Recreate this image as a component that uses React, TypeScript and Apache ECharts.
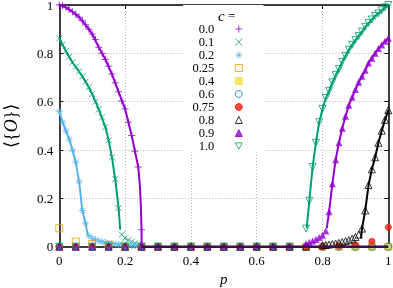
import React, { useEffect, useRef } from 'react';
import * as echarts from 'echarts';

// ---------- data ----------
const P_LEFT = [0, 0.01, 0.02, 0.03, 0.04, 0.05, 0.06, 0.07, 0.08, 0.09, 0.1, 0.11, 0.12, 0.13, 0.14, 0.15, 0.16, 0.17, 0.18, 0.19, 0.2, 0.21, 0.22, 0.23, 0.24, 0.25];
const P_COARSE = [0, 0.05, 0.1, 0.15, 0.2, 0.25, 0.3, 0.35, 0.4, 0.45, 0.5, 0.55, 0.6, 0.65, 0.7, 0.75, 0.8, 0.85, 0.9, 0.95, 1.0];
const P_TAIL = [0.3, 0.35, 0.4, 0.45, 0.5, 0.55, 0.6, 0.65, 0.7, 0.75, 0.8, 0.85, 0.9, 0.95, 1.0];
const P_HEAD = [0, 0.05, 0.1, 0.15, 0.2, 0.25, 0.3, 0.35, 0.4, 0.45, 0.5, 0.55, 0.6, 0.65, 0.7];
const P_HEAD08 = [0, 0.05, 0.1, 0.15, 0.2, 0.25, 0.3, 0.35, 0.4, 0.45, 0.5, 0.55, 0.6, 0.65, 0.7, 0.75];
const P_RIGHT = [0.75, 0.76, 0.77, 0.78, 0.79, 0.8, 0.81, 0.82, 0.83, 0.84, 0.85, 0.86, 0.87, 0.88, 0.89, 0.9, 0.91, 0.92, 0.93, 0.94, 0.95, 0.96, 0.97, 0.98, 0.99, 1.0];
const P_C08 = [0.8, 0.81, 0.82, 0.83, 0.84, 0.85, 0.86, 0.87, 0.88, 0.89, 0.9, 0.91, 0.92, 0.93, 0.94, 0.95, 0.96, 0.97, 0.98, 0.99, 1.0];

// markers (simulation)
const C00 = [1.0, 0.997, 0.99, 0.982, 0.972, 0.962, 0.95, 0.935, 0.918, 0.9, 0.88, 0.857, 0.825, 0.8, 0.775, 0.747, 0.714, 0.678, 0.641, 0.603, 0.57, 0.515, 0.46, 0.395, 0.33, 0.07];
const C00_TAIL = [0, 0, 0, 0, 0, 0, 0, 0, 0, 0, 0, 0, 0, 0, 0];
const C01 = [0.862, 0.835, 0.81, 0.785, 0.762, 0.745, 0.725, 0.705, 0.683, 0.66, 0.632, 0.6, 0.568, 0.535, 0.495, 0.44, 0.37, 0.28, 0.16, 0.05, 0.035, 0.027, 0.02, 0.014, 0.009, 0.004];
const C01_TAIL = [0, 0, 0, 0, 0, 0, 0, 0, 0, 0, 0, 0, 0, 0, 0];
const C02 = [0.56, 0.515, 0.48, 0.445, 0.4, 0.35, 0.27, 0.15, 0.095, 0.045, 0.035, 0.029, 0.024, 0.02, 0.017, 0.015, 0.013, 0.011, 0.009, 0.008, 0.007, 0.006, 0.005, 0.004, 0.003, 0.002];
const C02_TAIL = [0, 0, 0, 0, 0, 0, 0, 0, 0, 0, 0, 0, 0, 0, 0];
const C025 = [0.076, 0.021, 0.011, 0.007, 0, 0, 0, 0, 0, 0, 0, 0, 0, 0, 0, 0, 0, 0, 0, 0, 0];
const C04 = [0, 0, 0, 0, 0, 0, 0, 0, 0, 0, 0, 0, 0, 0, 0, 0, 0, 0, 0, 0, 0];
const C06 = [0, 0, 0, 0, 0, 0, 0, 0, 0, 0, 0, 0, 0, 0, 0, 0, 0, 0, 0, 0, 0];
const C075 = [0, 0, 0, 0, 0, 0, 0, 0, 0, 0, 0, 0, 0, 0, 0, 0, 0, 0.004, 0.008, 0.022, 0.08];
const C08_HEAD = [0, 0, 0, 0, 0, 0, 0, 0, 0, 0, 0, 0, 0, 0, 0, 0];
const C08 = [0.006, 0.007, 0.009, 0.011, 0.013, 0.016, 0.019, 0.023, 0.027, 0.033, 0.04, 0.05, 0.075, 0.15, 0.255, 0.32, 0.37, 0.43, 0.48, 0.525, 0.565];
const C09_HEAD = [0, 0, 0, 0, 0, 0, 0, 0, 0, 0, 0, 0, 0, 0, 0];
const C09 = [0.012, 0.018, 0.024, 0.03, 0.038, 0.047, 0.065, 0.145, 0.26, 0.36, 0.43, 0.49, 0.54, 0.585, 0.618, 0.65, 0.68, 0.705, 0.73, 0.76, 0.78, 0.8, 0.82, 0.835, 0.85, 0.862];
const C10_HEAD = [0, 0, 0, 0, 0, 0, 0, 0, 0, 0, 0, 0, 0, 0, 0];
const C10 = [0.075, 0.19, 0.33, 0.43, 0.515, 0.57, 0.615, 0.645, 0.68, 0.71, 0.735, 0.765, 0.79, 0.815, 0.835, 0.855, 0.872, 0.89, 0.91, 0.925, 0.94, 0.955, 0.965, 0.978, 0.99, 1.0];

// fitted curves
const FIT00_P = [0, 0.02, 0.04, 0.06, 0.08, 0.1, 0.12, 0.14, 0.16, 0.18, 0.2, 0.21, 0.22, 0.23, 0.24, 0.245, 0.248, 0.25, 0.25];
const FIT00 = [1, 0.99, 0.972, 0.95, 0.918, 0.88, 0.825, 0.775, 0.714, 0.641, 0.57, 0.515, 0.46, 0.395, 0.33, 0.25, 0.165, 0.07, 0];
const ZERO_P = [0.25, 1.0];
const ZERO_V = [0, 0];
const FIT01_P = [0, 0.02, 0.04, 0.06, 0.08, 0.1, 0.12, 0.14, 0.15, 0.16, 0.17, 0.18, 0.185];
const FIT01 = [0.862, 0.81, 0.762, 0.725, 0.683, 0.632, 0.568, 0.495, 0.44, 0.37, 0.28, 0.165, 0.07];
const FIT02_P = [0, 0.01, 0.02, 0.03, 0.04, 0.05, 0.06, 0.07, 0.08, 0.087];
const FIT02 = [0.56, 0.515, 0.48, 0.445, 0.4, 0.35, 0.27, 0.15, 0.095, 0.045];
const FIT08_P = [0.917, 0.92, 0.93, 0.94, 0.95, 0.96, 0.97, 0.98, 0.99, 1.0];
const FIT08 = [0.035, 0.075, 0.15, 0.255, 0.32, 0.37, 0.43, 0.48, 0.525, 0.565];
const FIT09_P = [0.813, 0.82, 0.83, 0.84, 0.85, 0.86, 0.87, 0.88, 0.89, 0.9, 0.91, 0.92, 0.93, 0.94, 0.95, 0.96, 0.97, 0.98, 0.99, 1.0];
const FIT09 = [0.076, 0.145, 0.26, 0.36, 0.43, 0.49, 0.54, 0.585, 0.618, 0.65, 0.68, 0.705, 0.73, 0.76, 0.78, 0.8, 0.82, 0.835, 0.85, 0.862];
const FIT10_P = [0.752, 0.76, 0.77, 0.78, 0.79, 0.8, 0.81, 0.82, 0.83, 0.84, 0.85, 0.86, 0.87, 0.88, 0.89, 0.9, 0.91, 0.92, 0.93, 0.94, 0.95, 0.96, 0.97, 0.98, 0.99, 1.0];
const FIT10 = [0.076, 0.19, 0.33, 0.43, 0.515, 0.57, 0.615, 0.645, 0.68, 0.71, 0.735, 0.765, 0.79, 0.815, 0.835, 0.855, 0.872, 0.89, 0.91, 0.925, 0.94, 0.955, 0.965, 0.978, 0.99, 1.0];

const X_TICKS = ['0', '0.2', '0.4', '0.6', '0.8', '1'];
const Y_TICKS = ['0', '0.2', '0.4', '0.6', '0.8', '1'];
const LEGEND_NAMES = ['0.0', '0.1', '0.2', '0.25', '0.4', '0.6', '0.75', '0.8', '0.9', '1.0'];

// ---------- styles ----------
const PURPLE = '#9400d3';
const GREEN = '#009e73';
const SKY = '#56b4e9';
const ORANGE = '#e69f00';
const YELLOW = '#f0e442';
const BLUE = '#0072b2';
const RED = '#e51e10';
const BLACK = '#000000';
const FONT = '"Liberation Serif", "DejaVu Serif", serif';

const SYM_PLUS = 'path://M0,-1L0,1M-1,0L1,0';
const SYM_X = 'path://M-1,-1L1,1M-1,1L1,-1';
const SYM_STAR = 'path://M0,-1L0,1M-1,0L1,0M-0.7,-0.7L0.7,0.7M-0.7,0.7L0.7,-0.7';
const SYM_DOWN = 'path://M-1,-0.9L1,-0.9L0,0.9Z';

const pairs = (ps: number[], vs: number[]) => ps.map((p, i) => [p, vs[i]]);

function markerSeries(name: string, data: number[][], symbol: string, color: string, filled: boolean, size = 7) {
  return {
    name,
    type: 'scatter',
    data,
    symbol,
    symbolSize: size,
    itemStyle: filled
      ? { color, borderColor: color, borderWidth: 0 }
      : { color: 'rgba(0,0,0,0)', borderColor: color, borderWidth: 1 },
    z: 3,
    silent: true,
  };
}

function lineSeries(name: string, data: number[][], color: string, width = 2) {
  return {
    name,
    type: 'line',
    data,
    showSymbol: false,
    symbol: 'none',
    lineStyle: { color, width },
    z: 4,
    silent: true,
  };
}

export default function App() {
  const ref = useRef<HTMLDivElement>(null);
  useEffect(() => {
    if (!ref.current) return;
    const chart = echarts.init(ref.current, undefined, { renderer: 'svg' });
    const tickFmt = (ticks: string[]) => (v: number) => ticks[Math.round(v * 5)] ?? '';
    const baseAxis = {
      type: 'value',
      min: 0,
      max: 1,
      interval: 0.2,
      axisLine: { show: true, onZero: false, lineStyle: { color: BLACK, width: 1.5 } },
      axisTick: { show: true, inside: true, length: 4, lineStyle: { color: BLACK, width: 1 } },
    };
    const option: any = {
      animation: false,
      grid: { left: 59.3, right: 4.7, top: 5, bottom: 41.3, containLabel: false, outerBoundsMode: 'none' },
      xAxis: [
        {
          ...baseAxis,
          position: 'bottom',
          axisLabel: { formatter: tickFmt(X_TICKS), color: BLACK, fontFamily: FONT, fontSize: 13, margin: 7 },
          splitLine: { show: true, lineStyle: { color: '#b4b4b4', type: [1, 2], width: 1 } },
          name: 'p',
          nameLocation: 'middle',
          nameGap: 21,
          nameTextStyle: { color: BLACK, fontFamily: FONT, fontSize: 15, fontStyle: 'italic' },
        },
        {
          ...baseAxis,
          position: 'top',
          axisLabel: { show: false },
          splitLine: { show: false },
        },
      ],
      yAxis: [
        {
          ...baseAxis,
          position: 'left',
          axisLabel: { formatter: tickFmt(Y_TICKS), color: BLACK, fontFamily: FONT, fontSize: 13, lineHeight: 10, margin: 6 },
          splitLine: { show: true, lineStyle: { color: '#b4b4b4', type: [1, 2], width: 1 } },
          name: '⟨{{i|O}}⟩',
          nameLocation: 'middle',
          nameGap: 39,
          nameTextStyle: {
            color: BLACK,
            fontFamily: FONT,
            fontSize: 18,
            rich: { i: { fontStyle: 'italic', fontFamily: FONT, fontSize: 18, color: BLACK } },
          },
        },
        {
          ...baseAxis,
          position: 'right',
          axisLabel: { show: false },
          splitLine: { show: false },
        },
      ],
      legend: {
        data: LEGEND_NAMES,
        orient: 'vertical',
        left: 183,
        top: 5,
        padding: [17.5, 20.7, 0, 1.3],
        backgroundColor: '#ffffff',
        align: 'right',
        itemWidth: 7,
        itemHeight: 7,
        itemGap: 0,
        selectedMode: false,
        itemStyle: { borderWidth: 1 },
        formatter: (n: string) => '{a|' + n + '}{g|}',
        textStyle: {
          color: BLACK,
          fontFamily: FONT,
          fontSize: 12.5,
          lineHeight: 13,
          rich: {
            a: { width: 30, align: 'right', lineHeight: 13, fontFamily: FONT, fontSize: 12.5, color: BLACK },
            g: { width: 16, lineHeight: 13 },
          },
        },
        z: 5,
      },
      graphic: [
        {
          type: 'text',
          left: 218,
          top: 8,
          z: 20,
          style: {
            text: '{i|c} =',
            fill: BLACK,
            font: '13px ' + FONT,
            rich: { i: { fontStyle: 'italic', fontFamily: FONT, fontSize: 15, fill: BLACK } },
          },
        },
      ],
      series: [
        markerSeries('0.0', [...pairs(P_LEFT, C00), ...pairs(P_TAIL, C00_TAIL)], SYM_PLUS, PURPLE, false, 7),
        lineSeries('fit0.0', pairs(FIT00_P, FIT00), PURPLE),
        markerSeries('0.1', [...pairs(P_LEFT, C01), ...pairs(P_TAIL, C01_TAIL)], SYM_X, GREEN, false, 6),
        lineSeries('fit0.1', pairs(FIT01_P, FIT01), GREEN),
        markerSeries('0.2', [...pairs(P_LEFT, C02), ...pairs(P_TAIL, C02_TAIL)], SYM_STAR, SKY, false, 7),
        lineSeries('fit0.2', pairs(FIT02_P, FIT02), SKY),
        markerSeries('0.25', pairs(P_COARSE, C025), 'rect', ORANGE, false, 7),
        markerSeries('0.4', pairs(P_COARSE, C04), 'rect', YELLOW, true, 7),
        markerSeries('0.6', pairs(P_COARSE, C06), 'circle', BLUE, false, 7),
        markerSeries('0.75', pairs(P_COARSE, C075), 'circle', RED, true, 7),
        markerSeries('0.8', [...pairs(P_HEAD08, C08_HEAD), ...pairs(P_C08, C08)], 'triangle', BLACK, false, 7),
        lineSeries('fit0.8', pairs(FIT08_P, FIT08), BLACK),
        markerSeries('0.9', [...pairs(P_HEAD, C09_HEAD), ...pairs(P_RIGHT, C09)], 'triangle', PURPLE, true, 7),
        lineSeries('fit0.9', pairs(FIT09_P, FIT09), PURPLE),
        markerSeries('1.0', [...pairs(P_HEAD, C10_HEAD), ...pairs(P_RIGHT, C10)], SYM_DOWN, GREEN, false, 7),
        lineSeries('fit1.0', pairs(FIT10_P, FIT10), GREEN),
        lineSeries('zero', pairs(ZERO_P, ZERO_V), '#3e0a52', 2.5),
      ],
    };
    chart.setOption(option);
    return () => chart.dispose();
  }, []);
  return <div ref={ref} style={{ position: 'fixed', left: 0, top: 0, width: 393, height: 288 }} />;
}
